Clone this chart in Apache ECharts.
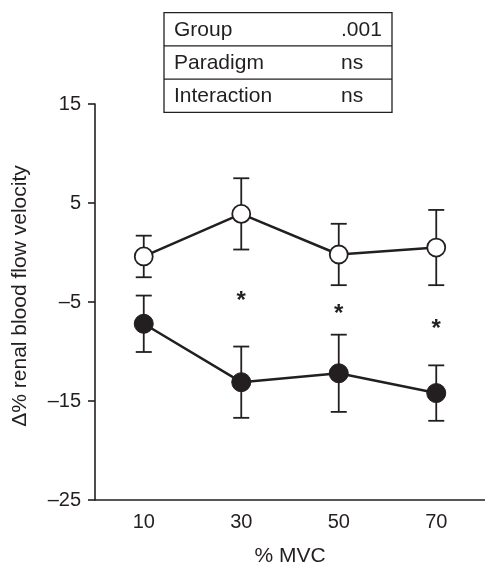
<!DOCTYPE html>
<html>
<head>
<meta charset="utf-8">
<script src="https://cdn.jsdelivr.net/npm/echarts@6/dist/echarts.min.js"></script>
<style>
  html, body { margin: 0; padding: 0; background: #fff; }
  #chart { width: 485px; height: 567px; }
</style>
</head>
<body>
<div id="chart"></div>
<script>
// % MVC categories
const mvc = ['10', '30', '50', '70']
// open circles
const openMean = [-0.4, 3.9, -0.2, 0.5]
const openErr = [2.1, 3.6, 3.1, 3.8]
// filled circles
const filledMean = [-7.2, -13.1, -12.2, -14.2]
const filledErr = [2.85, 3.6, 3.9, 2.8]
// significance markers (* between groups)
const starY = [null, -4.4, -5.7, -7.3]
// stats table
const tableLabels = ['Group', 'Paradigm', 'Interaction']
const tableValues = ['.001', 'ns', 'ns']

const ink = '#231f20'
const font = 'Liberation Sans, Arial, sans-serif'

const myChart = echarts.init(document.getElementById('chart'))

function errorBars(params, api) {
  const i = api.value(0)
  const m = api.value(1)
  const e = api.value(2)
  const top = api.coord([i, m + e])
  const bot = api.coord([i, m - e])
  const hw = 8
  const st = { stroke: ink, lineWidth: 1.8 }
  return {
    type: 'group',
    children: [
      { type: 'line', shape: { x1: top[0], y1: top[1], x2: bot[0], y2: bot[1] }, style: st },
      { type: 'line', shape: { x1: top[0] - hw, y1: top[1], x2: top[0] + hw, y2: top[1] }, style: st },
      { type: 'line', shape: { x1: bot[0] - hw, y1: bot[1], x2: bot[0] + hw, y2: bot[1] }, style: st }
    ]
  }
}

// table drawn as graphic
const rowH = 33.2
const tableTop = 12.7
const tableLeft = 164
const tableW = 228
const tableGraphic = [
  {
    type: 'rect',
    shape: { x: tableLeft, y: tableTop, width: tableW, height: rowH * 3 },
    style: { fill: '#fff', stroke: ink, lineWidth: 1.3 }
  }
]
tableLabels.forEach((lab, i) => {
  if (i > 0) {
    tableGraphic.push({
      type: 'line',
      shape: { x1: tableLeft, y1: tableTop + rowH * i, x2: tableLeft + tableW, y2: tableTop + rowH * i },
      style: { stroke: ink, lineWidth: 1.3 }
    })
  }
  const cy = tableTop + rowH * i + rowH / 2 + 1
  tableGraphic.push({
    type: 'text', x: 174, y: cy,
    style: { text: lab, fill: ink, font: '21px ' + font, align: 'left', verticalAlign: 'middle' }
  })
  tableGraphic.push({
    type: 'text', x: 341, y: cy,
    style: { text: tableValues[i], fill: ink, font: '21px ' + font, align: 'left', verticalAlign: 'middle' }
  })
})

const option = {
  backgroundColor: '#fff',
  animation: false,
  grid: {
    left: 95,
    right: 0,
    top: 104,
    bottom: 67,
    outerBoundsMode: 'none'
  },
  xAxis: {
    type: 'category',
    data: mvc,
    boundaryGap: true,
    name: '% MVC',
    nameLocation: 'middle',
    nameGap: 46,
    nameTextStyle: { color: ink, fontSize: 21, fontFamily: font },
    axisLine: { onZero: false, lineStyle: { color: ink, width: 1.6 } },
    axisTick: { alignWithLabel: true, length: 7, lineStyle: { color: ink, width: 1.6 } },
    axisLabel: { color: ink, fontSize: 20, fontFamily: font, margin: 12 },
    splitLine: { show: false }
  },
  yAxis: {
    type: 'value',
    min: -25,
    max: 15,
    interval: 10,
    name: 'Δ% renal blood flow velocity',
    nameLocation: 'middle',
    nameGap: 64,
    nameTextStyle: { color: ink, fontSize: 21, fontFamily: font, padding: [0, 0, 0, 12] },
    axisLine: { show: true, lineStyle: { color: ink, width: 1.6 } },
    axisTick: { show: true, length: 7, lineStyle: { color: ink, width: 1.6 } },
    axisLabel: {
      color: ink, fontSize: 20, fontFamily: font, margin: 14,
      formatter: v => (v < 0 ? '\u2013' + Math.abs(v) : String(v))
    },
    splitLine: { show: false }
  },
  graphic: tableGraphic,
  series: [
    {
      name: 'open err',
      type: 'custom',
      renderItem: errorBars,
      z: 1,
      data: mvc.map((c, i) => [i, openMean[i], openErr[i]])
    },
    {
      name: 'filled err',
      type: 'custom',
      renderItem: errorBars,
      z: 1,
      data: mvc.map((c, i) => [i, filledMean[i], filledErr[i]])
    },
    {
      name: 'open',
      type: 'line',
      z: 3,
      data: openMean,
      symbol: 'circle',
      symbolSize: 18,
      lineStyle: { color: ink, width: 2.5 },
      itemStyle: { color: '#fff', borderColor: ink, borderWidth: 1.8 }
    },
    {
      name: 'filled',
      type: 'line',
      z: 3,
      data: filledMean,
      symbol: 'circle',
      symbolSize: 19,
      lineStyle: { color: ink, width: 2.5 },
      itemStyle: { color: ink, borderColor: ink, borderWidth: 1 }
    },
    {
      name: 'stars',
      type: 'custom',
      z: 4,
      data: mvc.map((c, i) => [i, starY[i]]).filter(d => d[1] !== null),
      renderItem: function (params, api) {
        const p = api.coord([api.value(0), api.value(1)])
        return {
          type: 'text',
          x: p[0],
          y: p[1] + 5,
          style: { text: '*', fill: ink, font: 'bold 24px ' + font, align: 'center', verticalAlign: 'middle' }
        }
      }
    }
  ]
}

option && myChart.setOption(option)
</script>
</body>
</html>
